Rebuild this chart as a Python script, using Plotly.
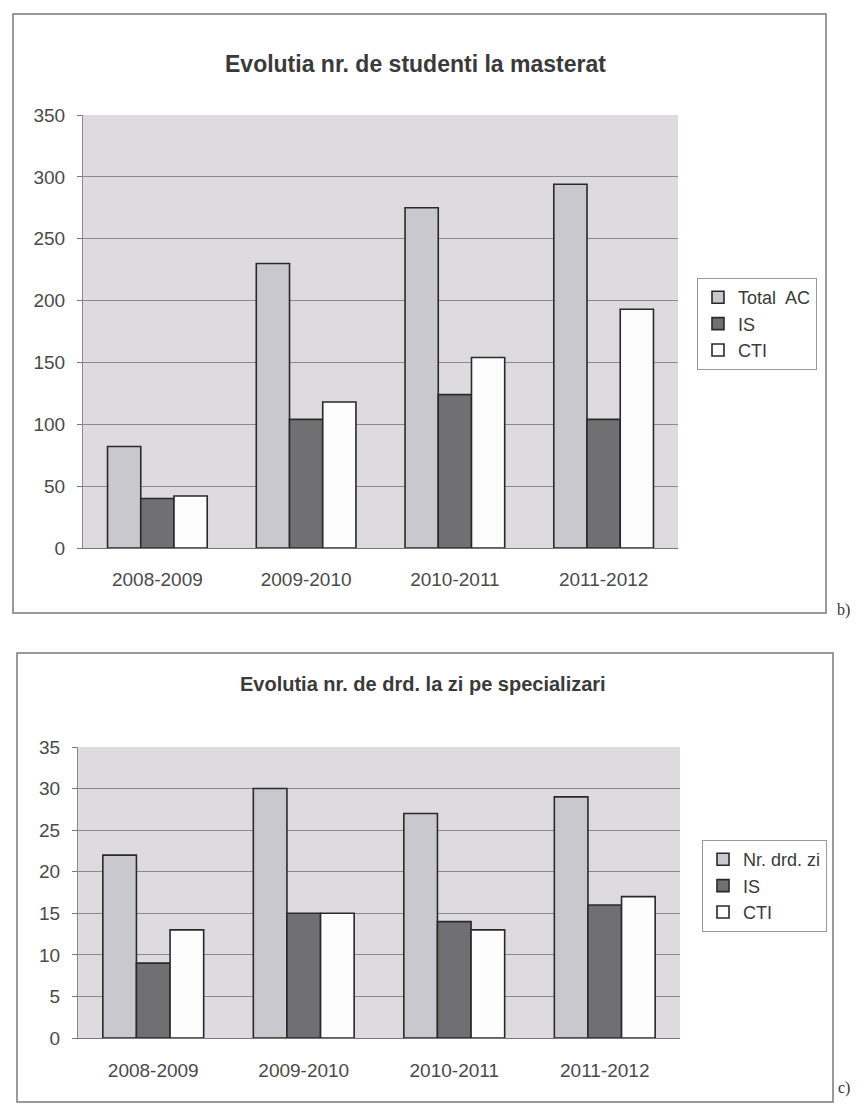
import plotly.graph_objects as go

categories = ["2008-2009", "2009-2010", "2010-2011", "2011-2012"]

# Chart b) master students
total_ac = [82, 230, 275, 294]
is_b = [40, 104, 124, 104]
cti_b = [42, 118, 154, 193]

# Chart c) PhD students
nr_drd = [22, 30, 27, 29]
is_c = [9, 15, 14, 16]
cti_c = [13, 15, 13, 17]

# page body has an 8px margin; figure drawn inside it without overflowing
OFF = 8
W, H = 859 - 2 * OFF, 1119 - 2 * OFF
C_TOTAL = "#c9c8ce"
C_IS = "#707072"
C_CTI = "#fdfdfd"
PLOT_BG = "#dddbdf"
LINE = "#2a2a2a"
FONT = "Liberation Sans, Arial, sans-serif"


def px_x(v):
    return (v - OFF) / W


def px_y(v):
    return 1 - (v - OFF) / H


fig = go.Figure()


def add_bars(names, series, xa, ya, legend):
    colors = [C_TOTAL, C_IS, C_CTI]
    for n, s, c in zip(names, series, colors):
        fig.add_trace(go.Bar(
            x=categories, y=s, name=n, xaxis=xa, yaxis=ya, legend=legend,
            marker=dict(color=c, line=dict(color=LINE, width=1.6)),
        ))


add_bars(["Total  AC", "IS", "CTI"], [total_ac, is_b, cti_b], "x", "y", "legend")
add_bars(["Nr. drd. zi", "IS", "CTI"], [nr_drd, is_c, cti_c], "x2", "y2", "legend2")

axis_font = dict(family=FONT, size=19, color="#4a4a4a")

xcommon = dict(showgrid=False, tickfont=axis_font, showline=True, linecolor="#777777",
               linewidth=1, ticks="", automargin=False, fixedrange=True)
ycommon = dict(gridcolor="#8a8a8a", gridwidth=1, tickfont=axis_font, showline=True,
               linecolor="#8a8a8a", ticks="outside", ticklen=5, tickcolor="#777777",
               zeroline=False, automargin=False, ticklabelstandoff=8, fixedrange=True)

legend_common = dict(xanchor="left", yanchor="top", bgcolor="white",
                     bordercolor="#999999", borderwidth=1,
                     font=dict(family=FONT, size=18, color="#3a3a3a"),
                     itemwidth=30, tracegroupgap=0)

fig.update_layout(
    width=W, height=H,
    margin=dict(l=0, r=0, t=0, b=0, autoexpand=False),
    paper_bgcolor="white",
    plot_bgcolor=PLOT_BG,
    barmode="group",
    bargap=0.33,
    bargroupgap=0.0,
    font=dict(family=FONT, color="#333333"),
    xaxis=dict(domain=[px_x(83), px_x(678)], anchor="y", ticklabelstandoff=14, **xcommon),
    yaxis=dict(domain=[px_y(548), px_y(115)], anchor="x", range=[0, 350], dtick=50, **ycommon),
    xaxis2=dict(domain=[px_x(78), px_x(680)], anchor="y2", ticklabelstandoff=15, **xcommon),
    yaxis2=dict(domain=[px_y(1038), px_y(747)], anchor="x2", range=[0, 35], dtick=5, **ycommon),
    legend=dict(x=px_x(697), y=px_y(278), **legend_common),
    legend2=dict(x=px_x(702), y=px_y(840), **legend_common),
    showlegend=True,
)

# Outer chart boxes
fig.add_shape(type="rect", xref="paper", yref="paper",
              x0=px_x(13), x1=px_x(826), y0=px_y(613), y1=px_y(14),
              line=dict(color="#7a7a7a", width=1.5), layer="below")
fig.add_shape(type="rect", xref="paper", yref="paper",
              x0=px_x(17), x1=px_x(833), y0=px_y(1102), y1=px_y(653),
              line=dict(color="#7a7a7a", width=1.5), layer="below")

# Titles
fig.add_annotation(text="<b>Evolutia nr. de studenti la masterat</b>", xref="paper", yref="paper",
                   x=px_x(415), y=px_y(49), showarrow=False,
                   font=dict(family=FONT, size=23, color="#3a3a3a"))
fig.add_annotation(text="<b>Evolutia nr. de drd. la zi pe specializari</b>", xref="paper", yref="paper",
                   x=px_x(423), y=px_y(684), showarrow=False,
                   font=dict(family=FONT, size=20, color="#3a3a3a"))

# Side labels
fig.add_annotation(text="b)", xref="paper", yref="paper", x=px_x(835), y=px_y(610),
                   showarrow=False, xanchor="left",
                   font=dict(family="Liberation Serif, serif", size=16, color="#333333"))
fig.add_annotation(text="c)", xref="paper", yref="paper", x=px_x(836), y=px_y(1099),
                   showarrow=False, xanchor="left",
                   font=dict(family="Liberation Serif, serif", size=16, color="#333333"))

fig.write_html("out.html")
